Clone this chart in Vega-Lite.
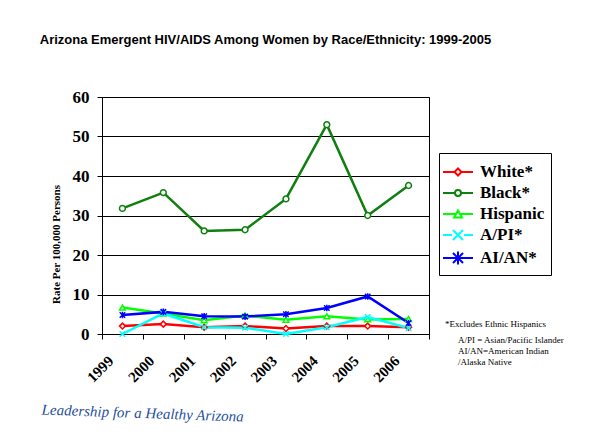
{
  "$schema": "https://vega.github.io/schema/vega-lite/v6.json",
  "width": 327,
  "height": 237,
  "autosize": {"type": "none"},
  "padding": {"left": 102, "top": 97, "right": 171, "bottom": 113},
  "background": "white",
  "title": {
    "text": "Arizona Emergent HIV/AIDS Among Women by Race/Ethnicity:  1999-2005",
    "font": "Liberation Sans",
    "fontSize": 13,
    "fontWeight": "bold",
    "color": "black",
    "anchor": "middle",
    "frame": "group",
    "baseline": "alphabetic",
    "offset": 31
  },
  "config": {
    "view": {"stroke": "black", "strokeWidth": 1},
    "axis": {"domainColor": "black", "tickColor": "black", "labelColor": "black", "titleColor": "black"}
  },
  "datasets": {
    "rates": [
      {"year": "1999", "series": "White*", "rate": 2.0},
      {"year": "2000", "series": "White*", "rate": 2.5},
      {"year": "2001", "series": "White*", "rate": 1.7},
      {"year": "2002", "series": "White*", "rate": 2.0},
      {"year": "2003", "series": "White*", "rate": 1.4},
      {"year": "2004", "series": "White*", "rate": 2.0},
      {"year": "2005", "series": "White*", "rate": 2.0},
      {"year": "2006", "series": "White*", "rate": 1.7},
      {"year": "1999", "series": "Black*", "rate": 31.8},
      {"year": "2000", "series": "Black*", "rate": 35.8},
      {"year": "2001", "series": "Black*", "rate": 26.1},
      {"year": "2002", "series": "Black*", "rate": 26.4},
      {"year": "2003", "series": "Black*", "rate": 34.2},
      {"year": "2004", "series": "Black*", "rate": 53.0},
      {"year": "2005", "series": "Black*", "rate": 30.0},
      {"year": "2006", "series": "Black*", "rate": 37.6},
      {"year": "1999", "series": "Hispanic", "rate": 6.7},
      {"year": "2000", "series": "Hispanic", "rate": 5.2},
      {"year": "2001", "series": "Hispanic", "rate": 3.5},
      {"year": "2002", "series": "Hispanic", "rate": 4.7},
      {"year": "2003", "series": "Hispanic", "rate": 3.6},
      {"year": "2004", "series": "Hispanic", "rate": 4.5},
      {"year": "2005", "series": "Hispanic", "rate": 3.7},
      {"year": "2006", "series": "Hispanic", "rate": 3.8},
      {"year": "1999", "series": "A/PI*", "rate": 0.0},
      {"year": "2000", "series": "A/PI*", "rate": 5.2},
      {"year": "2001", "series": "A/PI*", "rate": 1.7},
      {"year": "2002", "series": "A/PI*", "rate": 1.6},
      {"year": "2003", "series": "A/PI*", "rate": 0.0},
      {"year": "2004", "series": "A/PI*", "rate": 1.7},
      {"year": "2005", "series": "A/PI*", "rate": 4.3},
      {"year": "2006", "series": "A/PI*", "rate": 1.5},
      {"year": "1999", "series": "AI/AN*", "rate": 4.8},
      {"year": "2000", "series": "AI/AN*", "rate": 5.6},
      {"year": "2001", "series": "AI/AN*", "rate": 4.5},
      {"year": "2002", "series": "AI/AN*", "rate": 4.4},
      {"year": "2003", "series": "AI/AN*", "rate": 5.0},
      {"year": "2004", "series": "AI/AN*", "rate": 6.6},
      {"year": "2005", "series": "AI/AN*", "rate": 9.5},
      {"year": "2006", "series": "AI/AN*", "rate": 2.8}
    ],
    "notes": [
      {"note": "A/PI = Asian/Pacific Islander"},
      {"note": "AI/AN=American Indian"},
      {"note": "/Alaska Native"}
    ]
  },
  "encoding": {
    "x": {
      "field": "year",
      "type": "ordinal",
      "scale": {"type": "band", "paddingInner": 0, "paddingOuter": 0},
      "axis": {
        "title": "Leadership for a Healthy Arizona",
        "titleFont": "Liberation Serif",
        "titleFontStyle": "italic",
        "titleFontWeight": "normal",
        "titleFontSize": 15,
        "titleColor": "#1f4f9c",
        "titleAnchor": "start",
        "titleAlign": "left",
        "titleBaseline": "alphabetic",
        "titleX": -61,
        "titleY": 80,
        "titleAngle": 2,
        "labelAngle": -45,
        "labelAlign": "right",
        "labelBaseline": "middle",
        "labelFont": "Liberation Serif",
        "labelFontWeight": "bold",
        "labelFontSize": 15,
        "labelOffset": -12,
        "labelPadding": 19,
        "tickBand": "extent",
        "tickSize": 5,
        "grid": false
      }
    },
    "y": {
      "field": "rate",
      "type": "quantitative",
      "scale": {"domain": [0, 60], "nice": false},
      "axis": {
        "title": "Rate Per 100,000 Persons",
        "titleFont": "Liberation Serif",
        "titleFontWeight": "bold",
        "titleFontSize": 11,
        "titleX": -46,
        "titleY": 147,
        "titleAlign": "center",
        "titleBaseline": "middle",
        "values": [0, 10, 20, 30, 40, 50, 60],
        "labelFont": "Liberation Serif",
        "labelFontWeight": "bold",
        "labelFontSize": 17,
        "labelPadding": 8,
        "tickSize": 5,
        "grid": true,
        "gridColor": "black",
        "gridWidth": 1,
        "gridOpacity": 1
      }
    }
  },
  "resolve": {"scale": {"color": "independent", "shape": "independent"}},
  "layer": [
    {
      "data": {"name": "rates"},
      "mark": {"type": "line", "strokeWidth": 2.5},
      "encoding": {
        "color": {
          "field": "series",
          "type": "nominal",
          "scale": {
            "domain": ["White*", "Black*", "Hispanic", "A/PI*", "AI/AN*"],
            "range": ["#ff0000", "#0f7f0f", "#00ff00", "#00ffff", "#0000ff"]
          },
          "legend": null
        }
      }
    },
    {
      "data": {"name": "rates"},
      "mark": {"type": "point", "filled": false, "fill": "white", "strokeWidth": 1.5, "opacity": 1},
      "encoding": {
        "color": {
          "field": "series",
          "type": "nominal",
          "scale": {
            "domain": ["White*", "Black*", "Hispanic", "A/PI*", "AI/AN*"],
            "range": ["#ff0000", "#0f7f0f", "#00ff00", "#00ffff", "#0000ff"]
          },
          "legend": null
        },
        "shape": {
          "field": "series",
          "type": "nominal",
          "scale": {
            "domain": ["White*", "Black*", "Hispanic", "A/PI*", "AI/AN*"],
            "range": ["diamond", "circle", "triangle-up", "M-1,-1L1,1M-1,1L1,-1", "M-1,-1L1,1M-1,1L1,-1M0,-1.2V1.2"]
          },
          "legend": null
        },
        "size": {
          "field": "series",
          "type": "nominal",
          "scale": {
            "domain": ["White*", "Black*", "Hispanic", "A/PI*", "AI/AN*"],
            "range": [35, 30, 45, 90, 100]
          },
          "legend": null
        }
      }
    },
    {
      "data": {"name": "rates"},
      "mark": {"type": "point", "filled": false, "fill": "white", "strokeWidth": 2, "opacity": 0},
      "encoding": {
        "color": {
          "field": "series",
          "type": "nominal",
          "scale": {
            "domain": ["White*", "Black*", "Hispanic", "A/PI*", "AI/AN*"],
            "range": ["#ff0000", "#0f7f0f", "#00ff00", "#00ffff", "#0000ff"]
          },
          "legend": {
            "title": null,
            "orient": "none",
            "legendX": 337,
            "legendY": 56,
            "padding": 6,
            "strokeColor": "black",
            "fillColor": "white",
            "symbolSize": 576,
            "symbolOpacity": 1,
            "symbolStrokeWidth": 2,
            "labelFont": "Liberation Serif",
            "labelFontWeight": "bold",
            "labelFontSize": 17,
            "labelColor": "black",
            "labelOffset": 9,
            "rowPadding": 0
          }
        },
        "shape": {
          "field": "series",
          "type": "nominal",
          "scale": {
            "domain": ["White*", "Black*", "Hispanic", "A/PI*", "AI/AN*"],
            "range": [
              "M-1.25,0H-0.29M0.29,0H1.25M-0.29,0L0,-0.29L0.29,0L0,0.29Z",
              "M-1.25,0H-0.25M0.25,0H1.25M-0.25,0A0.25,0.25,0,1,0,0.25,0A0.25,0.25,0,1,0,-0.25,0Z",
              "M-1.25,0H-0.17M0.17,0H1.25M-0.33,0.29L0,-0.29L0.33,0.29Z",
              "M-1.25,0H-0.5M0.5,0H1.25M-0.42,-0.42L0.42,0.42M-0.42,0.42L0.42,-0.42",
              "M-1.25,0H1.25M-0.42,-0.42L0.42,0.42M-0.42,0.42L0.42,-0.42M0,-0.55V0.55"
            ]
          },
          "legend": {
            "title": null,
            "orient": "none",
            "legendX": 337,
            "legendY": 56,
            "padding": 6,
            "strokeColor": "black",
            "fillColor": "white",
            "symbolSize": 576,
            "symbolOpacity": 1,
            "symbolStrokeWidth": 2,
            "labelFont": "Liberation Serif",
            "labelFontWeight": "bold",
            "labelFontSize": 17,
            "labelColor": "black",
            "labelOffset": 9,
            "rowPadding": 0
          }
        }
      }
    },
    {
      "data": {"name": "notes"},
      "mark": {"type": "point", "size": 0, "opacity": 0},
      "encoding": {
        "x": null,
        "y": null,
        "fill": {
          "field": "note",
          "type": "nominal",
          "scale": {
            "domain": ["A/PI = Asian/Pacific Islander", "AI/AN=American Indian", "/Alaska Native"],
            "range": ["white", "white", "white"]
          },
          "legend": {
            "title": "*Excludes Ethnic Hispanics",
            "orient": "none",
            "legendX": 343,
            "legendY": 223,
            "padding": 0,
            "titleFont": "Liberation Serif",
            "titleFontWeight": "normal",
            "titleFontSize": 9,
            "titleColor": "black",
            "titlePadding": 6,
            "symbolSize": 0,
            "symbolOpacity": 0,
            "symbolStrokeWidth": 0,
            "labelFont": "Liberation Serif",
            "labelFontSize": 9,
            "labelColor": "black",
            "labelOffset": 4,
            "rowPadding": 1
          }
        }
      }
    }
  ]
}
